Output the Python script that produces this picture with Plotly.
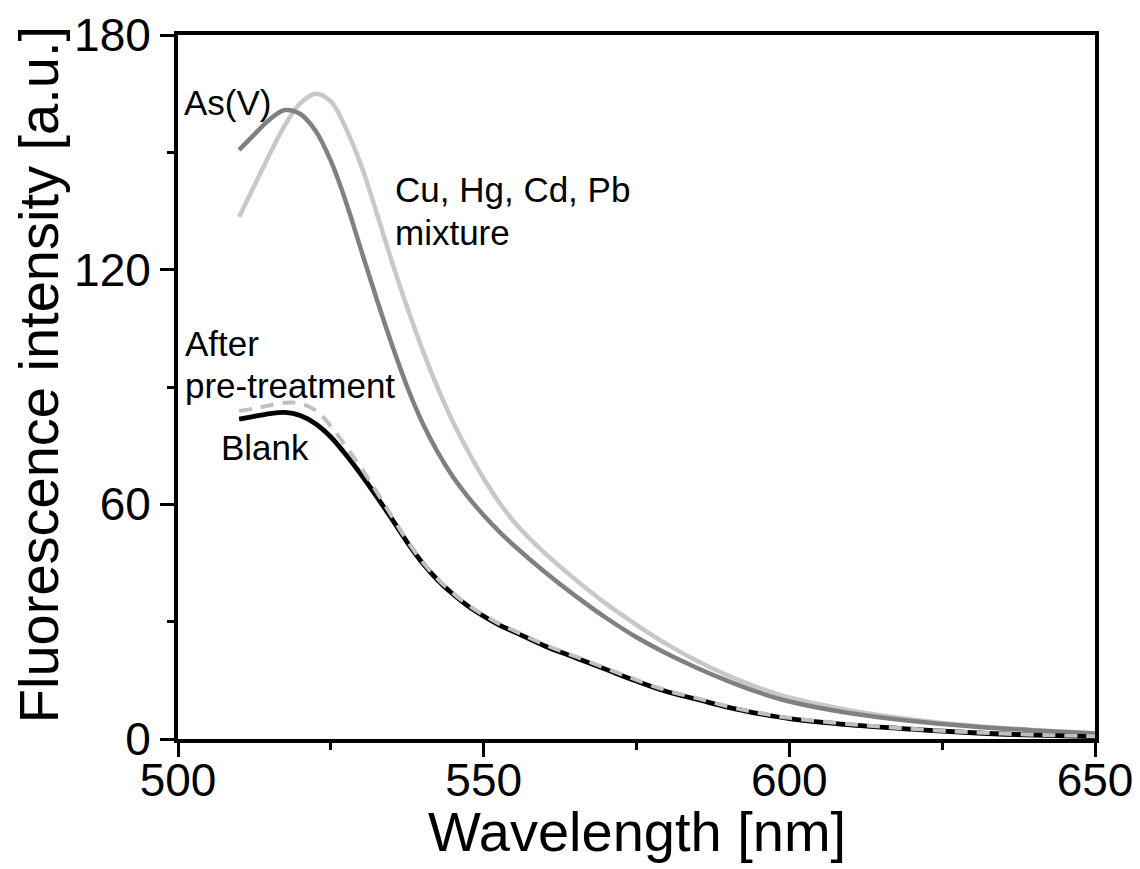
import plotly.graph_objects as go

wavelength = [510, 512.5, 515, 517.5, 520, 522.5, 525, 527.5, 530, 532.5, 535, 537.5,
              540, 542.5, 545, 547.5, 550, 552.5, 555, 560, 565, 570, 575, 580, 585, 590, 595,
              600, 610, 620, 630, 640, 650]

as_v = [150.6, 154.6, 158.4, 160.8, 159.8, 155.5, 147.8, 137.2, 124.8, 112.5, 100.8, 90,
        80.8, 73.3, 67, 61.8, 57.2, 53.1, 49.4, 42.7, 36.6, 31, 26, 21.8, 18.1, 14.8, 11.9,
        9.6, 6.6, 4.6, 3.2, 2.2, 1.4]

mixture = [133.5, 141.5, 149.5, 157, 162.5, 165, 163, 156, 146.5, 134.5, 122, 110.3,
           99.5, 89.7, 81, 73.4, 66.6, 60.6, 55.5, 47.5, 40.8, 34.6, 29.2, 24.2, 19.9, 16.2, 13.1,
           10.6, 7.3, 5, 3.4, 2.3, 1.5]

blank = [81.8, 82.5, 83.2, 83.5, 82.7, 80.6, 77.2, 72.6, 67.5, 62, 56.2, 50.3,
         45, 40.6, 37, 33.9, 31.4, 29.2, 27.4, 23.8, 20.8, 17.8, 14.8, 12.1, 10.1, 8.1, 6.5,
         5.2, 3.6, 2.5, 1.6, 1.0, 0.6]

pretreat = [83.9, 84.5, 85.3, 86, 85.8, 84, 80, 74.7, 69.2, 63.2, 56.9, 50.7,
            45.3, 40.9, 37.3, 34.2, 31.7, 29.5, 27.7, 24.1, 21.1, 18.1, 15.1, 12.4, 10.4, 8.3, 6.7,
            5.4, 3.8, 2.6, 1.7, 1.1, 0.7]

x_title = "Wavelength [nm]"
y_title = "Fluorescence intensity [a.u.]"

FONT = "Liberation Sans, Arial, sans-serif"

fig = go.Figure()
fig.add_trace(go.Scatter(x=wavelength, y=mixture, mode="lines", name="Cu, Hg, Cd, Pb mixture",
                         line=dict(color="#c8c8c8", width=4.5, shape="spline", smoothing=1.0)))
fig.add_trace(go.Scatter(x=wavelength, y=as_v, mode="lines", name="As(V)",
                         line=dict(color="#808080", width=4.5, shape="spline", smoothing=1.0)))
fig.add_trace(go.Scatter(x=wavelength, y=blank, mode="lines", name="Blank",
                         line=dict(color="#000000", width=4.8, shape="spline", smoothing=1.0)))
fig.add_trace(go.Scatter(x=wavelength, y=pretreat, mode="lines", name="After pre-treatment",
                         line=dict(color="#c0c0c0", width=4, dash="13px,9px", shape="spline", smoothing=1.0)))

ann_font = dict(family=FONT, size=35, color="#000000")
labels = [
    ("As(V)", 500.6, 162.8),
    ("Cu, Hg, Cd, Pb", 535.2, 140.4),
    ("mixture", 535.2, 129.4),
    ("After", 500.8, 101.0),
    ("pre-treatment", 500.8, 90.3),
    ("Blank", 506.7, 74.6),
]
for txt, ax, ay in labels:
    fig.add_annotation(x=ax, y=ay, xref="x", yref="y", text=txt, showarrow=False,
                       xanchor="left", yanchor="middle", font=ann_font)

title_font = dict(family=FONT, size=56, color="#000000")
fig.add_annotation(x=0.5, y=-0.1307, xref="paper", yref="paper", text=x_title,
                   showarrow=False, xanchor="center", yanchor="middle", font=title_font)
fig.add_annotation(x=-0.1525, y=0.517, xref="paper", yref="paper", text=y_title,
                   showarrow=False, xanchor="center", yanchor="middle", textangle=-90,
                   font=title_font)

# the page body adds an 8px offset, so the figure is 8px smaller and margins shifted
fig.update_layout(
    width=1132, height=861,
    margin=dict(l=170, r=45, t=27, b=130),
    paper_bgcolor="white", plot_bgcolor="white",
    showlegend=False,
    font=dict(family=FONT, color="#000000"),
)
fig.update_xaxes(
    range=[500, 650], tickvals=[500, 550, 600, 650], automargin=False,
    showgrid=False, zeroline=False,
    showline=True, linewidth=4, linecolor="black", mirror=True,
    ticks="outside", ticklen=14, tickwidth=3, tickcolor="black",
    minor=dict(ticks="outside", ticklen=7, tickwidth=3, tickcolor="black", tickvals=[525, 575, 625]),
    tickfont=dict(family=FONT, size=46), ticklabelstandoff=-16,
)
fig.update_yaxes(
    range=[0, 180], tickvals=[0, 60, 120, 180], automargin=False,
    showgrid=False, zeroline=False,
    showline=True, linewidth=4, linecolor="black", mirror=True,
    ticks="outside", ticklen=14, tickwidth=3, tickcolor="black",
    minor=dict(ticks="outside", ticklen=7, tickwidth=3, tickcolor="black", tickvals=[30, 90, 150]),
    tickfont=dict(family=FONT, size=46),
)

fig.write_html("out.html")
